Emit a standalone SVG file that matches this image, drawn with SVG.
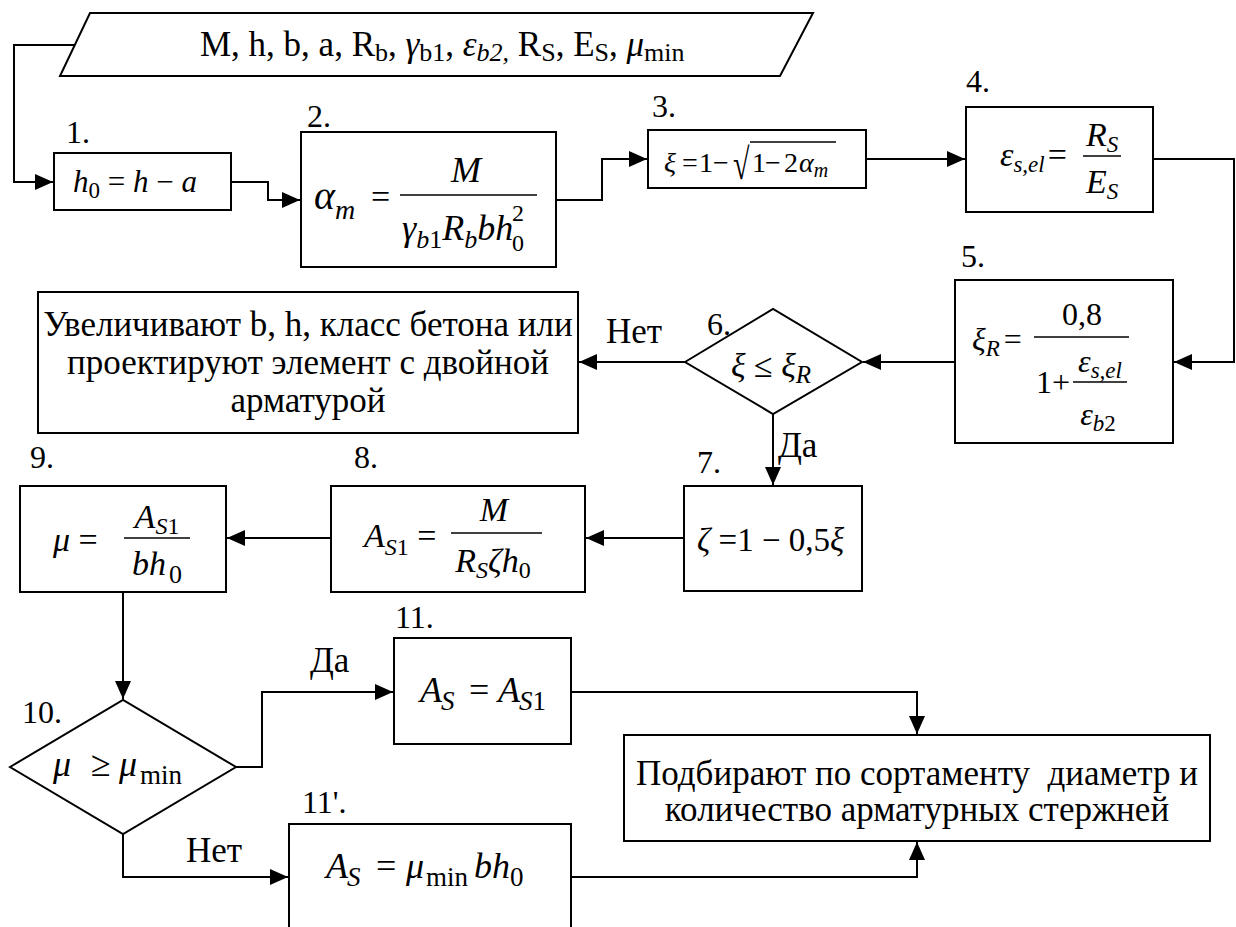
<svg xmlns="http://www.w3.org/2000/svg" width="1236" height="927" viewBox="0 0 1236 927">
<style>
.box{fill:#fff;stroke:#000;stroke-width:2}
.ln{fill:none;stroke:#000;stroke-width:2}
.bar{stroke:#000;stroke-width:1.5}
text{font-family:"Liberation Serif",serif;fill:#000}
.i{font-style:italic}
.lbl{font-size:32px}
.cy{font-size:35px}
</style>
<defs>
<marker id="ah" markerUnits="userSpaceOnUse" markerWidth="20" markerHeight="18" refX="18" refY="8" orient="auto"><path d="M0,0 L18,8 L0,16 Z" fill="#000"/></marker>
</defs>
<rect width="1236" height="927" fill="#fff"/>
<g id="connectors">
<path class="ln" d="M75,45 H14 V182 H53" marker-end="url(#ah)"/>
<path class="ln" d="M231,182 H268 V200 H300" marker-end="url(#ah)"/>
<path class="ln" d="M556,200 H602 V159 H647" marker-end="url(#ah)"/>
<path class="ln" d="M866,159 H965" marker-end="url(#ah)"/>
<path class="ln" d="M1153,159 H1234 V362 H1174" marker-end="url(#ah)"/>
<path class="ln" d="M955,362 H863" marker-end="url(#ah)"/>
<path class="ln" d="M685,362 H579" marker-end="url(#ah)"/>
<path class="ln" d="M773,414 V485" marker-end="url(#ah)"/>
<path class="ln" d="M684,538 H586" marker-end="url(#ah)"/>
<path class="ln" d="M331,538 H227" marker-end="url(#ah)"/>
<path class="ln" d="M123,592 V699" marker-end="url(#ah)"/>
<path class="ln" d="M236,767 H262 V692 H393" marker-end="url(#ah)"/>
<path class="ln" d="M123,834 V877 H288" marker-end="url(#ah)"/>
<path class="ln" d="M571,692 H917 V734" marker-end="url(#ah)"/>
<path class="ln" d="M571,877 H917 V842" marker-end="url(#ah)"/>
<text x="606" y="343" class="cy">Нет</text>
<text x="778" y="457" class="cy">Да</text>
<text x="310" y="672" class="cy">Да</text>
<text x="186" y="862" class="cy">Нет</text>
</g>
<g id="input">
<polygon class="box" points="90,13 813,13 780,76 60,76"/>
<text x="200" y="56" class="cy">M, h, b, a, R<tspan font-size="26" dy="5">b</tspan><tspan dy="-5">, </tspan><tspan class="i">γ</tspan><tspan font-size="26" dy="5">b1</tspan><tspan dy="-5">, </tspan><tspan class="i">ε</tspan><tspan class="i" font-size="26" dy="5">b2,</tspan><tspan dy="-5"> R</tspan><tspan font-size="26" dy="5">S</tspan><tspan dy="-5">, E</tspan><tspan font-size="26" dy="5">S</tspan><tspan dy="-5">, </tspan><tspan class="i">μ</tspan><tspan font-size="26" dy="5">min</tspan></text>
</g>
<g id="n1">
<text x="66" y="143" class="lbl">1.</text>
<rect class="box" x="54" y="153" width="177" height="57"/>
<text x="73" y="192" font-size="31"><tspan class="i">h</tspan><tspan font-size="23" dy="6">0</tspan><tspan dy="-6"> = </tspan><tspan class="i">h</tspan> − <tspan class="i">a</tspan></text>
</g>
<g id="n2">
<text x="307" y="127" class="lbl">2.</text>
<rect class="box" x="301" y="132" width="255" height="135"/>
<text x="314" y="209" font-size="40"><tspan class="i">α</tspan><tspan class="i" font-size="28" dy="10">m</tspan></text>
<text x="371" y="208" font-size="34">=</text>
<line class="bar" x1="400" y1="195" x2="537" y2="195"/>
<text x="466" y="182" font-size="36" text-anchor="middle" class="i">M</text>
<text x="402" y="240" font-size="36"><tspan class="i">γ</tspan><tspan font-size="26" dy="8"><tspan class="i">b</tspan>1</tspan><tspan class="i" dy="-8">R</tspan><tspan class="i" font-size="26" dy="8">b</tspan><tspan class="i" dy="-8">bh</tspan></text>
<text x="512" y="221" font-size="24">2</text>
<text x="512" y="251" font-size="24">0</text>
</g>
<g id="n3">
<text x="652" y="117" class="lbl">3.</text>
<rect class="box" x="648" y="130" width="218" height="58"/>
<text y="172" font-size="28"><tspan x="664" class="i">ξ</tspan><tspan x="682">=</tspan><tspan x="699">1</tspan><tspan x="713">−</tspan><tspan x="752">1</tspan><tspan x="765">−</tspan><tspan x="784">2</tspan><tspan x="799" class="i">α</tspan><tspan class="i" font-size="20" dy="5">m</tspan></text>
<text font-size="30" transform="translate(733,179) scale(1,1.45)">√</text>
<line class="bar" x1="750" y1="142" x2="836" y2="142"/>
</g>
<g id="n4">
<text x="966" y="92" class="lbl">4.</text>
<rect class="box" x="966" y="107" width="187" height="105"/>
<text x="1000" y="166" font-size="34"><tspan class="i">ε</tspan><tspan class="i" font-size="23" dy="6">s,el</tspan><tspan dy="-6" dx="3">=</tspan></text>
<line class="bar" x1="1083" y1="156" x2="1121" y2="156"/>
<text x="1086" y="146" font-size="34"><tspan class="i">R</tspan><tspan class="i" font-size="23" dy="6">S</tspan></text>
<text x="1086" y="193" font-size="34"><tspan class="i">E</tspan><tspan class="i" font-size="23" dy="6">S</tspan></text>
</g>
<g id="n5">
<text x="961" y="267" class="lbl">5.</text>
<rect class="box" x="955" y="280" width="218" height="163"/>
<text x="972" y="350" font-size="32"><tspan class="i">ξ</tspan><tspan class="i" font-size="23" dy="6">R</tspan><tspan dy="-6" dx="4">=</tspan></text>
<line class="bar" x1="1034" y1="337" x2="1129" y2="337"/>
<text x="1082" y="325" font-size="32" text-anchor="middle">0,8</text>
<text x="1036" y="393" font-size="32">1+</text>
<line class="bar" x1="1073" y1="382" x2="1127" y2="382"/>
<text x="1100" y="372" font-size="32" text-anchor="middle"><tspan class="i">ε</tspan><tspan class="i" font-size="23" dy="6">s,el</tspan></text>
<text x="1098" y="425" font-size="32" text-anchor="middle"><tspan class="i">ε</tspan><tspan class="i" font-size="23" dy="6">b</tspan><tspan font-size="23">2</tspan></text>
</g>
<g id="n6">
<text x="707" y="335" class="lbl">6.</text>
<polygon class="box" points="685,362 773,309 862,362 773,414"/>
<text x="771" y="377" font-size="34" text-anchor="middle"><tspan class="i">ξ</tspan> ≤ <tspan class="i">ξ</tspan><tspan class="i" font-size="25" dy="6">R</tspan></text>
</g>
<g id="n_fail">
<rect class="box" x="38" y="292" width="540" height="141"/>
<text x="308" y="336" class="cy" text-anchor="middle">Увеличивают b, h, класс бетона или</text>
<text x="308" y="374" class="cy" text-anchor="middle">проектируют элемент с двойной</text>
<text x="308" y="412" class="cy" text-anchor="middle">арматурой</text>
</g>
<g id="n7">
<text x="697" y="473" class="lbl">7.</text>
<rect class="box" x="684" y="486" width="178" height="105"/>
<text x="697" y="551" font-size="33"><tspan class="i">ζ</tspan> =1 − 0,5<tspan class="i">ξ</tspan></text>
</g>
<g id="n8">
<text x="354" y="468" class="lbl">8.</text>
<rect class="box" x="331" y="486" width="254" height="106"/>
<text x="364" y="547" font-size="34"><tspan class="i">A</tspan><tspan font-size="24" dy="8"><tspan class="i">S</tspan>1</tspan><tspan dy="-8"> =</tspan></text>
<line class="bar" x1="451" y1="533" x2="542" y2="533"/>
<text x="494" y="521" font-size="34" text-anchor="middle" class="i">M</text>
<text x="493" y="572" font-size="34" text-anchor="middle"><tspan class="i">R</tspan><tspan class="i" font-size="24" dy="6">S</tspan><tspan class="i" dy="-6">ζh</tspan><tspan font-size="24" dy="6">0</tspan></text>
</g>
<g id="n9">
<text x="30" y="468" class="lbl">9.</text>
<rect class="box" x="20" y="486" width="206" height="106"/>
<text x="53" y="551" font-size="34"><tspan class="i">μ</tspan> =</text>
<line class="bar" x1="124" y1="538" x2="190" y2="538"/>
<text x="157" y="528" font-size="34" text-anchor="middle"><tspan class="i">A</tspan><tspan font-size="24" dy="6"><tspan class="i">S</tspan>1</tspan></text>
<text x="157" y="575" font-size="34" text-anchor="middle"><tspan class="i">bh</tspan><tspan font-size="26" dy="8" dx="3">0</tspan></text>
</g>
<g id="n10">
<text x="22" y="723" class="lbl">10.</text>
<polygon class="box" points="10,767 123,700 236,767 123,834"/>
<text y="776" font-size="36"><tspan x="53" class="i">μ</tspan><tspan x="91">≥</tspan><tspan x="119" class="i">μ</tspan><tspan font-size="27" dy="8" x="140">min</tspan></text>
</g>
<g id="n11">
<text x="395" y="628" class="lbl">11.</text>
<rect class="box" x="394" y="638" width="177" height="106"/>
<text y="702" font-size="36"><tspan x="420" class="i">A</tspan><tspan class="i" font-size="27" dy="8" x="441">S</tspan><tspan dy="-8" x="469">=</tspan><tspan x="498" class="i">A</tspan><tspan font-size="27" dy="8" x="519"><tspan class="i">S</tspan>1</tspan></text>
</g>
<g id="n11p">
<text x="302" y="813" class="lbl">11'.</text>
<rect class="box" x="289" y="824" width="282" height="130"/>
<text y="878" font-size="36"><tspan x="326" class="i">A</tspan><tspan class="i" font-size="27" dy="8" x="347">S</tspan><tspan dy="-8" x="376">=</tspan><tspan x="406" class="i">μ</tspan><tspan font-size="27" dy="8" x="426">min</tspan><tspan class="i" dy="-8" x="474">bh</tspan><tspan font-size="27" dy="8" x="510">0</tspan></text>
</g>
<g id="n_final">
<rect class="box" x="624" y="735" width="586" height="106"/>
<text x="917" y="785" class="cy" text-anchor="middle">Подбирают по сортаменту&#160; диаметр и</text>
<text x="917" y="821" class="cy" text-anchor="middle">количество арматурных стержней</text>
</g>
</svg>
